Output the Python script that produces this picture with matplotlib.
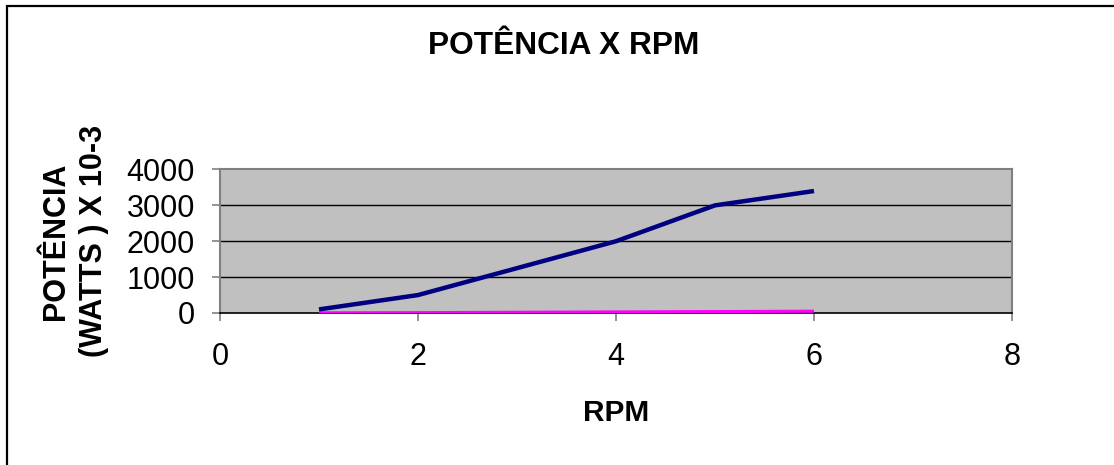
import matplotlib
matplotlib.use("Agg")
import matplotlib.pyplot as plt
from matplotlib.patches import Rectangle

plt.rcParams['font.family'] = ['Liberation Sans', 'DejaVu Sans']

# dados
rpm = [1, 2, 3, 4, 5, 6]
potencia = [100, 500, 1250, 2000, 3000, 3400]
potencia_2 = [5, 10, 20, 30, 40, 50]

x_ticks = [0, 2, 4, 6, 8]
y_ticks = [0, 1000, 2000, 3000, 4000]

fig = plt.figure(figsize=(11.14, 4.65), dpi=100)

# moldura do grafico (estilo excel)
fig.patches.append(Rectangle((7 / 1114, -0.1), 1.2, 1 - 6 / 465 + 0.1,
                             transform=fig.transFigure, fill=False,
                             edgecolor='black', linewidth=1.6))

ax = fig.add_axes([220 / 1114, 1 - 313 / 465, 792 / 1114, 143.5 / 465])
ax.set_facecolor('#C0C0C0')

ax.plot(rpm, potencia_2, color='#FF00FF', linewidth=2.2, solid_capstyle='butt', zorder=3)
ax.plot(rpm, potencia, color='#000080', linewidth=3.2, solid_capstyle='butt', zorder=4)

ax.set_xlim(0, 8)
ax.set_ylim(0, 4000)
ax.set_xticks(x_ticks)
ax.set_yticks(y_ticks)

# linhas de grade
for v in y_ticks[1:-1]:
    ax.axhline(v, color='black', linewidth=1.0, zorder=1)

for s in ['top', 'right', 'left']:
    ax.spines[s].set_color('#808080')
    ax.spines[s].set_linewidth(1.5)
ax.spines['bottom'].set_color('black')
ax.spines['bottom'].set_linewidth(1.2)

ax.tick_params(axis='both', labelsize=22, length=6, width=1.2, color='#808080')
ax.tick_params(axis='y', pad=12)
ax.tick_params(axis='x', pad=15)

ax.set_xlabel('RPM', fontsize=21.5, fontweight='bold', labelpad=19)
ax.set_ylabel('POTÊNCIA\n(WATTS ) X 10-3', fontsize=22, fontweight='bold',
              labelpad=13, linespacing=1.35)

fig.text(564 / 1114, 1 - 46 / 465, 'POTÊNCIA X RPM', fontsize=22.8, fontweight='bold',
         ha='center', va='center')

fig.savefig('out.png', dpi=100)
